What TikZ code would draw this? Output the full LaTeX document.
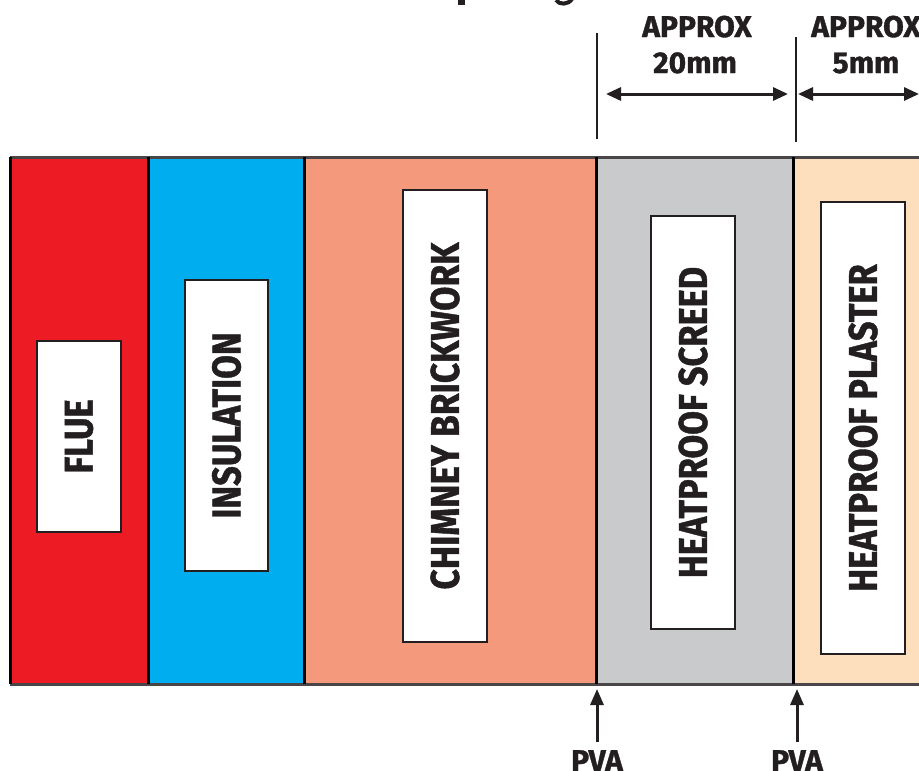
\documentclass[tikz,border=0pt]{standalone}
\usepackage{fontspec}
\setmainfont{Fira Sans}[BoldFeatures={FakeBold=1.2}]
\usetikzlibrary{arrows.meta}
\definecolor{flueRed}{HTML}{ED1C24}
\definecolor{insBlue}{HTML}{00AEEF}
\definecolor{brickSalmon}{HTML}{F4997B}
\definecolor{screedGray}{HTML}{C9CACC}
\definecolor{plasterPeach}{HTML}{FDDFBE}
\definecolor{inkDark}{HTML}{231F20}
\definecolor{edgeGray}{HTML}{4A4648}
\begin{document}
\begin{tikzpicture}[x=1pt,y=-1pt,
  layer/.style={draw=none,inner sep=0pt,minimum height=527pt,anchor=north west},
  labelbox/.style={draw=inkDark,line width=2.5pt,fill=white,inner sep=0pt,minimum width=83pt},
  lbl/.style={rotate=90,font=\fontsize{40}{40}\selectfont\bfseries,text=inkDark,inner sep=0pt},
  divider/.style={draw=black,line width=3pt},
  edge/.style={draw=edgeGray,line width=3pt},
  dimline/.style={draw=inkDark,line width=2.5pt},
  dimarrow/.style={draw=inkDark,line width=3pt,{Triangle[length=15pt,width=13pt]}-{Triangle[length=15pt,width=13pt]}},
  pvaarrow/.style={draw=inkDark,line width=3pt,-{Triangle[length=16pt,width=13pt]}},
  toptxt/.style={font=\fontsize{30}{30}\selectfont\bfseries,text=inkDark,inner sep=0pt}
]
\useasboundingbox (0,0) rectangle (919,771);
\clip (0,0) rectangle (919,771);

% title fragments (cut off at top)
\fill[inkDark] (458,-2) rectangle (465,5);
\draw[inkDark,line width=4pt] (556,0) .. controls (559,5) and (568,5) .. (572,-1);

% layers
\node[layer,fill=flueRed,minimum width=138.5pt] (flue) at (10,157) {};
\node[layer,fill=insBlue,minimum width=156pt] (ins) at (148.5,157) {};
\node[layer,fill=brickSalmon,minimum width=291.5pt] (brick) at (304.5,157) {};
\node[layer,fill=screedGray,minimum width=197.5pt] (screed) at (596,157) {};
\node[layer,fill=plasterPeach,minimum width=140pt] (plaster) at (793.5,157) {};

% borders
\draw[edge] (flue.north west) -- (plaster.north east);
\draw[edge] (flue.south west) -- (plaster.south east);
\draw[divider] (flue.north west) -- (flue.south west);
\draw[divider] (ins.north west) -- (ins.south west);
\draw[divider] (brick.north west) -- (brick.south west);
\draw[divider] (screed.north west) -- (screed.south west);
\draw[divider] (plaster.north west) -- (plaster.south west);

% label boxes
\node[labelbox,minimum width=84pt,minimum height=191pt] (flueBox) at (79,436.5) {};
\node[labelbox,minimum height=291pt] (insBox) at (226.5,425.5) {};
\node[labelbox,minimum width=84pt,minimum height=452pt] (brickBox) at (445,416) {};
\node[labelbox,minimum width=84pt,minimum height=413pt] (screedBox) at (693,422.5) {};
\node[labelbox,minimum width=84pt,minimum height=452pt] (plasterBox) at (863,428) {};

\node[lbl] (flueTxt) at (flueBox.center) {\scalebox{0.86}[1]{FLUE}};
\node[lbl] (insTxt) at (insBox.center) {\scalebox{0.86}[1]{INSULATION}};
\node[lbl] (brickTxt) at (brickBox.center) {\scalebox{0.88}[1]{CHIMNEY BRICKWORK}};
\node[lbl] (screedTxt) at (screedBox.center) {\scalebox{0.86}[1]{HEATPROOF SCREED}};
\node[lbl] (plasterTxt) at (plasterBox.center) {\scalebox{0.86}[1]{HEATPROOF PLASTER}};

% dimension marks
\coordinate (dimA1) at (597,33);
\coordinate (dimA2) at (597,139);
\coordinate (dimB1) at (796,37);
\coordinate (dimB2) at (796,142);
\draw[dimline] (dimA1) -- (dimA2);
\draw[dimline] (dimB1) -- (dimB2);
\coordinate (arrA1) at (606,94);
\coordinate (arrA2) at (788,94);
\coordinate (arrB1) at (798,94);
\coordinate (arrB2) at (919,94);
\draw[dimarrow] (arrA1) -- (arrA2);
\draw[dimarrow] (arrB1) -- (arrB2);

\node[toptxt,anchor=base] (approxA) at (697,37) {\scalebox{1.0}[1]{APPROX}};
\node[toptxt,anchor=base] (mmA) at (695,73) {\scalebox{1.0}[1]{20mm}};
\node[toptxt,anchor=base] (approxB) at (866,37) {\scalebox{1.0}[1]{APPROX}};
\node[toptxt,anchor=base] (mmB) at (866,73) {\scalebox{1.0}[1]{5mm}};

% PVA arrows
\node[toptxt,anchor=base] (pvaA) at (597,771) {\scalebox{1.0}[1]{PVA}};
\node[toptxt,anchor=base] (pvaB) at (797,771) {\scalebox{1.0}[1]{PVA}};
\coordinate (pvaAstart) at (597,742);
\coordinate (pvaAtip) at (597,689);
\coordinate (pvaBstart) at (797,742);
\coordinate (pvaBtip) at (797,689);
\draw[pvaarrow] (pvaAstart) -- (pvaAtip);
\draw[pvaarrow] (pvaBstart) -- (pvaBtip);
\end{tikzpicture}
\end{document}
